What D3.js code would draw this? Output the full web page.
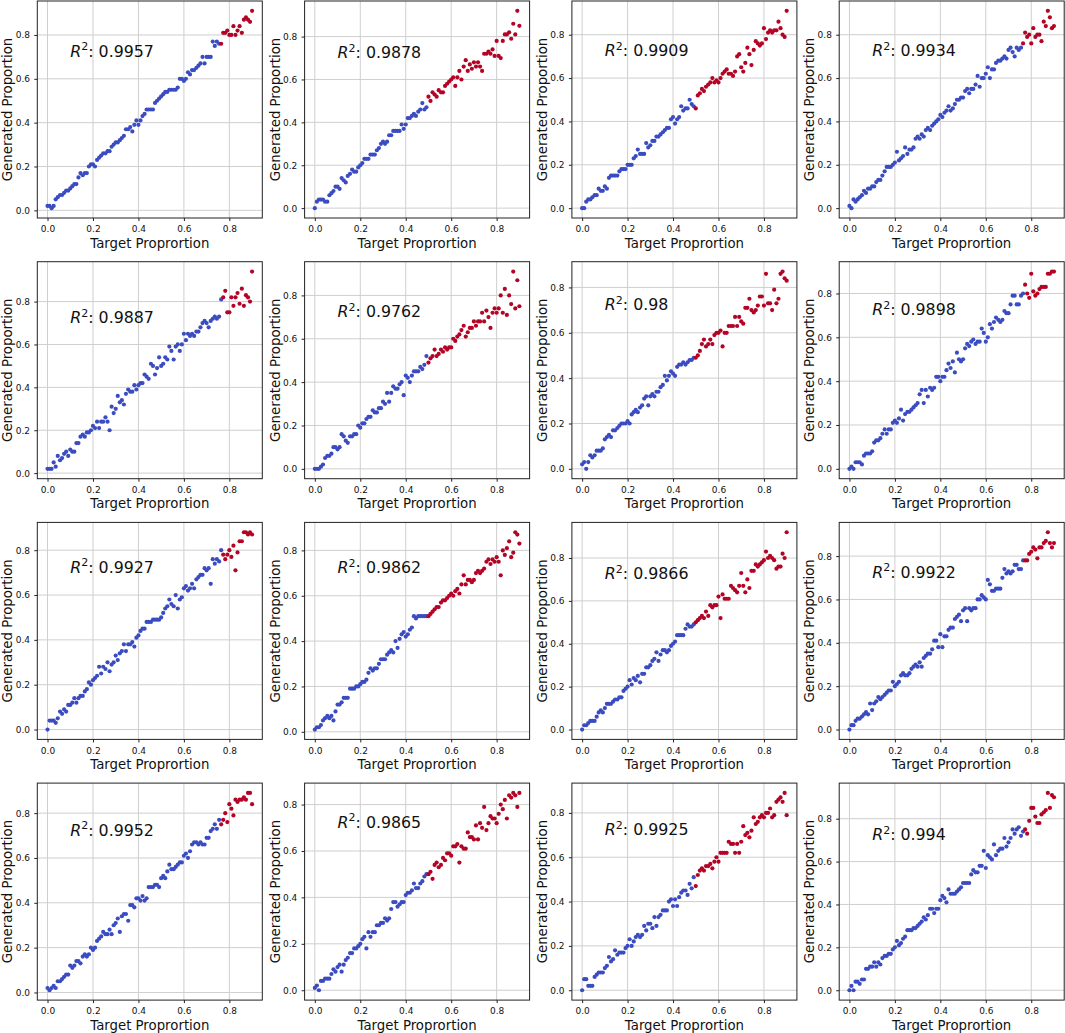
<!DOCTYPE html>
<html lang="en">
<head>
    <meta charset="UTF-8">
    <title>Generated vs target proportion</title>
    <script src="https://d3js.org/d3.v7.min.js"></script>
    <style>
        body { margin: 0; background: white; }
        text { font-family: 'DejaVu Sans', sans-serif; fill: #111; }
        .tick text { font-size: 9px; }
        .tick line { stroke: #222; }
    </style>
</head>
<body>
<script>
    // target proportions (shared x values of every panel)
    const targets = [
        0, 0.009, 0.018, 0.027, 0.036, 0.045, 0.055, 0.064, 0.073, 0.082,
        0.091, 0.1, 0.109, 0.118, 0.127, 0.136, 0.145, 0.155, 0.164, 0.173,
        0.182, 0.191, 0.2, 0.209, 0.218, 0.227, 0.236, 0.245, 0.255, 0.264,
        0.273, 0.282, 0.291, 0.3, 0.309, 0.318, 0.327, 0.336, 0.345, 0.355,
        0.364, 0.373, 0.382, 0.391, 0.4, 0.409, 0.418, 0.427, 0.436, 0.445,
        0.455, 0.464, 0.473, 0.482, 0.491, 0.5, 0.509, 0.518, 0.527, 0.536,
        0.545, 0.555, 0.564, 0.573, 0.582, 0.591, 0.6, 0.609, 0.618, 0.627,
        0.636, 0.645, 0.655, 0.664, 0.673, 0.682, 0.691, 0.7, 0.709, 0.718,
        0.727, 0.736, 0.745, 0.755, 0.764, 0.773, 0.782, 0.791, 0.8, 0.809,
        0.818, 0.827, 0.836, 0.845, 0.855, 0.864, 0.873, 0.882, 0.891, 0.9
    ];

    // generated proportions, in hundredths, one array per panel
    const gen01 = [2,2,1,2,5,6,7,7,8,9, 9,10,11,12,12,15,17,16,17,17, 20,21,21,20,23,24,25,26,26,27, 27,29,30,31,31,32,33,34,37,37, 38,36,39,41,39,41,43,44,46,46, 46,46,49,50,51,52,53,54,54,55, 55,55,55,56,60,60,59,60,63,62, 64,64,65,66,67,70,67,70,70,70, 77,75,77,76,76,81,81,82,80,80, 84,80,82,84,81,87,88,87,86,91];
    const gen02 = [0,3,4,4,4,3,3,6,7,8, 10,10,9,14,13,12,15,16,18,17, 17,19,20,21,23,23,23,25,25,25, 27,28,30,31,30,31,34,34,36,36, 36,36,39,37,39,42,42,43,44,43, 45,46,49,46,47,52,50,54,53,52, 55,54,54,57,58,59,60,61,57,61, 64,60,66,69,64,67,65,68,66,68, 66,64,72,72,73,72,74,71,78,71, 70,78,81,81,82,79,86,81,92,85];
    const gen03 = [0,0,3,4,4,5,6,6,9,8, 8,10,9,14,15,15,15,15,17,18, 18,18,20,20,20,23,24,27,25,25, 25,30,28,29,31,31,33,33,34,35, 36,37,37,41,42,39,41,42,47,45, 46,46,50,48,47,46,52,53,55,54, 56,57,58,60,58,59,58,60,62,63, 64,62,62,61,63,70,71,65,63,67, 74,71,66,73,77,76,75,76,83,78, 81,82,81,82,82,86,83,80,79,91];
    const gen04 = [1,0,4,3,4,5,6,8,7,9, 9,10,10,12,13,13,15,17,19,19, 19,20,21,26,22,23,24,28,25,27, 27,28,32,33,32,34,33,36,37,36, 38,39,40,41,43,42,44,45,47,45, 46,48,50,50,51,51,54,55,53,55, 55,57,61,56,60,60,62,65,60,64, 64,67,68,68,69,70,69,73,74,72, 70,74,73,74,76,81,79,80,76,83, 79,80,80,77,86,84,91,88,83,84];
    const gen05 = [2,2,2,5,3,8,6,7,9,10, 8,11,10,10,14,14,17,18,17,19, 19,20,22,21,24,21,24,24,26,24, 20,31,28,30,36,33,34,32,37,39, 38,38,41,39,41,42,42,46,45,44, 51,50,46,49,54,50,51,54,53,59, 57,53,59,60,57,60,65,62,65,64, 65,64,66,66,68,70,71,70,68,71, 72,73,72,73,81,82,85,75,75,82, 78,82,84,79,86,78,83,82,80,94];
    const gen06 = [0,0,0,1,2,5,6,6,7,10, 10,9,10,16,15,13,12,15,15,16, 16,20,19,21,21,23,24,24,27,26, 26,28,28,31,30,35,31,35,38,37, 37,39,40,34,43,42,40,43,45,45, 45,47,46,48,52,49,51,52,55,52, 53,55,54,56,55,56,56,60,59,61, 62,64,66,61,63,65,65,68,66,68, 68,72,68,73,70,65,72,74,72,74, 80,72,83,71,80,76,91,74,87,75];
    const gen07 = [2,3,0,3,6,5,6,8,8,8, 9,13,14,15,14,17,17,18,19,20, 20,20,21,20,24,25,26,25,27,28, 31,32,28,32,33,32,34,34,36,37, 41,39,41,43,42,41,45,46,46,47, 46,47,48,48,49,49,50,52,55,57, 54,55,57,55,59,60,60,61,54,60, 60,63,63,63,67,63,67,65,64,71, 71,75,70,69,70,72,76,76,72,86, 73,73,70,79,73,75,86,87,84,83];
    const gen08 = [0,1,0,3,3,3,2,6,7,7, 7,8,12,13,13,14,16,18,16,18, 18,21,22,21,23,27,22,25,26,26, 27,28,29,30,34,36,30,36,33,37, 36,37,42,42,40,42,42,45,48,46, 49,44,53,50,49,50,55,57,56,58, 59,57,58,58,64,62,58,60,66,64, 67,69,68,67,68,72,71,71,75,79, 79,75,75,79,80,84,80,78,89,81, 79,80,82,83,83,83,89,89,90,90];
    const gen09 = [0,4,4,4,3,5,8,7,9,8, 11,11,12,14,12,14,15,15,17,18, 21,20,22,23,24,28,25,28,27,30, 26,29,30,33,31,34,35,38,35,38, 38,39,37,41,42,44,45,45,48,48, 48,49,49,49,49,50,52,54,55,58, 56,55,60,54,58,59,63,64,62,63, 65,63,67,68,69,69,72,71,72,65, 76,74,76,75,80,78,76,78,80,77, 82,71,79,84,84,88,88,87,88,87];
    const gen10 = [1,2,2,3,5,6,7,6,7,5, 9,12,12,13,15,15,15,19,19,19, 20,20,21,22,22,23,26,28,27,28, 28,30,32,32,32,34,35,36,35,40, 37,41,43,44,42,43,45,46,51,50, 51,51,51,51,51,51,52,53,54,55, 55,57,58,58,59,60,61,60,62,63, 61,65,69,65,67,67,66,67,70,71, 70,71,72,75,76,74,76,75,77,75, 69,80,78,81,84,77,79,88,87,83];
    const gen11 = [0,2,2,3,4,4,4,6,8,9, 8,10,12,12,12,13,14,14,15,15, 18,19,20,23,21,24,23,25,22,26, 26,29,29,30,32,33,36,32,35,37, 37,36,37,39,40,41,44,44,44,44, 47,49,48,48,49,50,51,52,53,52, 55,53,58,57,58,58,62,52,63,61, 61,61,67,66,65,64,67,73,67,64, 70,66,74,74,77,76,77,78,79,83, 80,81,80,79,75,76,76,82,80,92];
    const gen12 = [0,2,2,4,5,5,6,7,8,7, 12,9,12,13,15,14,15,16,17,18, 18,22,20,21,22,25,26,25,25,26, 28,29,30,29,31,29,33,34,35,35, 37,41,41,38,44,38,43,43,46,47, 47,51,52,53,50,55,56,50,56,55, 56,56,60,60,62,61,60,69,67,64, 64,65,65,65,70,74,72,73,72,73, 76,76,74,74,78,78,78,81,82,84, 83,79,84,84,86,87,91,86,84,86];
    const gen13 = [2,1,2,3,2,5,5,6,7,8, 8,12,11,12,14,14,13,16,17,16, 17,20,19,20,23,24,25,27,26,26, 28,26,30,31,33,27,34,35,35,32, 39,39,38,42,42,41,43,41,42,47, 47,47,48,48,47,51,52,51,54,57, 55,55,56,57,58,58,61,62,60,63, 66,67,67,66,67,66,66,69,69,72, 73,75,73,77,75,77,80,76,84,82, 79,86,85,86,86,87,86,89,89,84];
    const gen14 = [1,2,0,4,4,5,5,5,7,9, 8,10,11,8,11,13,14,16,16,18, 18,19,20,22,23,18,25,23,25,25, 28,28,29,29,31,30,31,35,38,38, 36,37,38,38,41,42,42,43,46,44, 44,46,47,49,50,50,51,48,54,55, 53,54,57,56,59,59,58,62,62,63, 55,62,61,61,68,66,66,65,71,65, 72,70,79,69,72,75,74,74,72,76, 80,78,82,74,84,83,85,84,79,85];
    const gen15 = [0,5,5,2,2,2,6,7,8,8, 8,10,11,15,13,14,18,16,17,17, 17,19,20,23,20,22,24,25,24,25, 29,27,30,30,28,33,29,33,34,36, 36,36,40,41,38,41,38,42,44,45, 45,43,48,46,51,47,52,54,55,54, 56,56,57,55,58,60,58,62,62,62, 62,67,66,66,62,66,62,67,74,70, 71,69,72,78,75,76,78,79,78,80, 80,82,78,79,85,86,87,85,89,79];
    const gen16 = [0,2,0,4,4,3,5,5,10,10, 11,11,13,11,13,12,15,16,16,17, 17,19,20,23,21,22,24,25,28,28, 28,29,29,30,31,32,34,33,35,38, 38,36,38,38,42,44,43,41,47,45, 45,45,46,47,48,50,50,50,50,54, 56,55,55,58,58,65,57,63,62,61, 68,63,65,66,66,71,67,69,71,75, 73,75,76,72,74,75,73,79,85,85, 81,78,78,82,83,84,92,85,91,90];

    const r2Labels = ["0.9957", "0.9878", "0.9909", "0.9934", "0.9887", "0.9762", "0.98", "0.9898",
                      "0.9927", "0.9862", "0.9866", "0.9922", "0.9952", "0.9865", "0.9925", "0.994"];
    // targets at or above this value are drawn red
    const redFrom = [0.76, 0.5, 0.5, 0.76, 0.77, 0.5, 0.5, 0.77, 0.77, 0.5, 0.5, 0.77, 0.76, 0.5, 0.5, 0.765];
    const tickValues = [0, 0.2, 0.4, 0.6, 0.8];

    const panels = [gen01, gen02, gen03, gen04, gen05, gen06, gen07, gen08,
                    gen09, gen10, gen11, gen12, gen13, gen14, gen15, gen16];

    const width = 1065;
    const height = 1033;
    const w = 225, h = 217;
    const blue = "#3b4cc0", red = "#b40426";

    const svg = d3.select("body").append("svg").attr("width", width).attr("height", height);
    svg.append("rect").attr("width", width).attr("height", height).attr("fill", "white");

    // matplotlib style autoscale: data extent plus 5% each side
    function padded(values) {
        const [lo, hi] = d3.extent(values);
        const m = (hi - lo) * 0.05;
        return [lo - m, hi + m];
    }

    panels.forEach((gen, i) => {
        const col = i % 4, row = Math.floor(i / 4);
        const left = 37.3 + col * 267.3;
        const top = 1 + row * 260.7;
        const pts = targets.map((t, k) => ({x: t, y: gen[k] / 100}));

        const x = d3.scaleLinear().domain(padded(targets)).range([0, w]);
        const y = d3.scaleLinear().domain(padded(pts.map(d => d.y))).range([h, 0]);

        const g = svg.append("g").attr("transform", `translate(${left},${top})`);

        // grid
        g.selectAll(".vgrid").data(tickValues).join("line")
            .attr("x1", d => x(d)).attr("x2", d => x(d))
            .attr("y1", 0).attr("y2", h)
            .attr("stroke", "#cfcfcf").attr("stroke-width", 1);
        g.selectAll(".hgrid").data(tickValues).join("line")
            .attr("x1", 0).attr("x2", w)
            .attr("y1", d => y(d)).attr("y2", d => y(d))
            .attr("stroke", "#cfcfcf").attr("stroke-width", 1);

        g.append("g").selectAll("circle")
            .data(pts).join("circle")
            .attr("cx", d => x(d.x))
            .attr("cy", d => y(d.y))
            .attr("r", 2.1)
            .attr("fill", d => d.x >= redFrom[i] ? red : blue);

        const xAxis = g.append("g").attr("transform", `translate(0,${h})`)
            .call(d3.axisBottom(x).tickValues(tickValues).tickFormat(d3.format(".1f"))
                .tickSize(3).tickPadding(5));
        const yAxis = g.append("g")
            .call(d3.axisLeft(y).tickValues(tickValues).tickFormat(d3.format(".1f"))
                .tickSize(3).tickPadding(4.3));
        xAxis.select(".domain").remove();
        yAxis.select(".domain").remove();
        g.selectAll(".tick text").style("font-family", "'DejaVu Sans', sans-serif");

        g.append("rect").attr("width", w).attr("height", h)
            .attr("fill", "none").attr("stroke", "#222").attr("stroke-width", 1);

        // R^2 annotation at data position (0.1, 0.7)
        const note = g.append("text")
            .attr("x", x(0.1)).attr("y", y(0.7))
            .style("font-size", "15.8px");
        note.append("tspan").attr("font-style", "italic").text("R");
        note.append("tspan").attr("dy", -6.5).style("font-size", "11px").text("2");
        note.append("tspan").attr("dy", 6.5).text(": " + r2Labels[i]);

        g.append("text")
            .attr("x", w / 2).attr("y", h + 29.5)
            .attr("text-anchor", "middle")
            .style("font-size", "13.3px")
            .text("Target Proprortion");
        g.append("text")
            .attr("transform", `translate(-25,${h / 2}) rotate(-90)`)
            .attr("text-anchor", "middle")
            .style("font-size", "13.3px")
            .text("Generated Proportion");
    });
</script>
</body>
</html>
